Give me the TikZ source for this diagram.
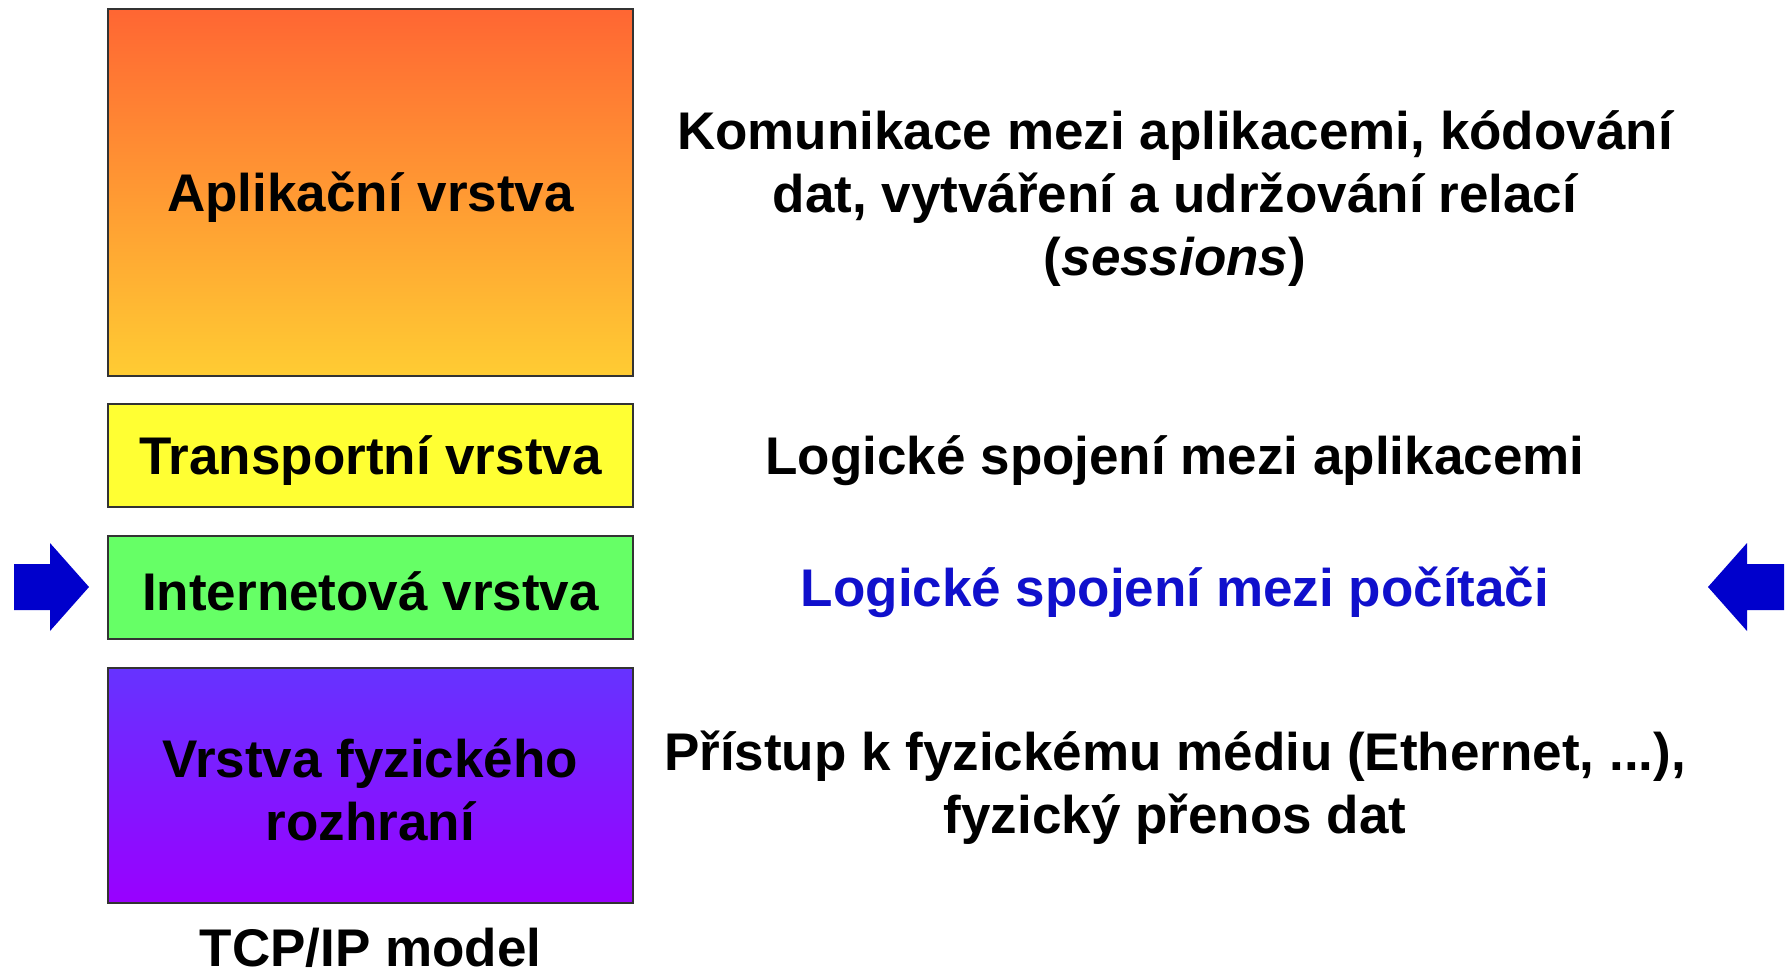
\documentclass[tikz,border=0pt]{standalone}
\usepackage{fontspec}
\setmainfont{Liberation Sans}
\definecolor{appTop}{HTML}{FF6633}
\definecolor{appBot}{HTML}{FFCC33}
\definecolor{transp}{HTML}{FFFF33}
\definecolor{inet}{HTML}{66FF66}
\definecolor{physTop}{HTML}{6633FF}
\definecolor{physBot}{HTML}{9900FF}
\definecolor{arrowblue}{HTML}{0000CC}
\definecolor{textblue}{HTML}{1010CC}
\begin{document}
\begin{tikzpicture}[x=1pt,y=-1pt,
  layer/.style={draw=black!80, line width=1.5pt, minimum width=525pt, inner sep=0pt},
  desc/.style={font=\fontsize{53}{63}\selectfont\bfseries, align=center, inner sep=0pt},
  bluearrow/.style={fill=arrowblue}]
\useasboundingbox (0,0) rectangle (1785,976);
\node[layer, minimum height=367pt, top color=appTop, bottom color=appBot] (app) at (370.5,192.5) {};
\node[layer, minimum height=103pt, fill=transp] (tra) at (370.5,455.5) {};
\node[layer, minimum height=103pt, fill=inet] (inet) at (370.5,587.5) {};
\node[layer, minimum height=235pt, top color=physTop, bottom color=physBot] (phys) at (370.5,785.5) {};
\node[desc] (tapp) at ([yshift=-5pt]app.center) {Aplikační vrstva};
\node[desc] (ttra) at ([yshift=-5pt]tra.center) {Transportní vrstva};
\node[desc] (tinet) at ([yshift=-4pt]inet.center) {Internetová vrstva};
\node[desc] (tphys) at ([yshift=-4pt]phys.center) {Vrstva fyzického\\rozhraní};
\node[desc] (model) at (370.5,948) {TCP/IP model};
\node[desc] (d1) at (1175,199) {Komunikace mezi aplikacemi, kódování\\dat, vytváření a udržování relací\\(\textit{sessions})};
\node[desc] (d2) at (1175,460.5) {Logické spojení mezi aplikacemi};
\node[desc, text=textblue] (d3) at (1175,592) {Logické spojení mezi počítači};
\node[desc] (d4) at (1175,787.5) {Přístup k fyzickému médiu (Ethernet, ...),\\fyzický přenos dat};
\fill[bluearrow] (14,564) -- (50,564) -- (50,543) -- (89,587) -- (50,631) -- (50,610) -- (14,610) -- cycle;
\fill[bluearrow] (1784,564) -- (1747,564) -- (1747,543) -- (1708,587) -- (1747,631) -- (1747,610) -- (1784,610) -- cycle;
\end{tikzpicture}
\end{document}
